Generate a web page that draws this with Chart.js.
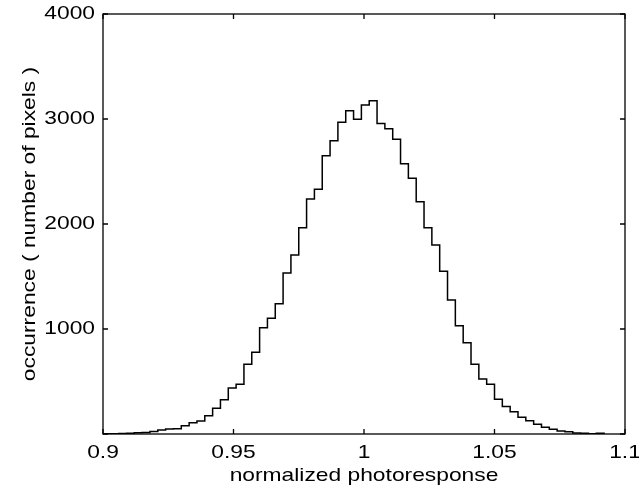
<!DOCTYPE html>
<html>
<head>
<meta charset="utf-8">
<script src="https://cdn.jsdelivr.net/npm/chart.js@4.4.0/dist/chart.umd.min.js"></script>
<style>
  html, body { margin: 0; padding: 0; background: #fff; }
  #wrap { width: 639px; height: 485px; position: relative; }
</style>
</head>
<body>
<div id="wrap"><canvas id="histChart"></canvas></div>
<script>
// left edges of the histogram bins (bin width 0.003)
const binEdges = [
  0.900, 0.903, 0.906, 0.909, 0.912, 0.915, 0.918, 0.921, 0.924, 0.927,
  0.930, 0.933, 0.936, 0.939, 0.942, 0.945, 0.948, 0.951, 0.954, 0.957,
  0.960, 0.963, 0.966, 0.969, 0.972, 0.975, 0.978, 0.981, 0.984, 0.987,
  0.990, 0.993, 0.996, 0.999, 1.002, 1.005, 1.008, 1.011, 1.014, 1.017,
  1.020, 1.023, 1.026, 1.029, 1.032, 1.035, 1.038, 1.041, 1.044, 1.047,
  1.050, 1.053, 1.056, 1.059, 1.062, 1.065, 1.068, 1.071, 1.074, 1.077,
  1.080, 1.083, 1.086, 1.089, 1.092
];

// pixel count per bin
const counts = [
  2, 3, 4, 6, 12, 15, 25, 38, 48, 50,
  79, 108, 124, 174, 245, 327, 438, 475, 664, 778,
  1013, 1102, 1241, 1533, 1705, 1965, 2238, 2330, 2651, 2794,
  2968, 3079, 2997, 3133, 3175, 2956, 2908, 2806, 2575, 2435,
  2213, 1965, 1800, 1550, 1276, 1032, 870, 664, 524, 473,
  332, 263, 212, 159, 127, 92, 64, 45, 29, 22,
  10, 8, 3, 6, 0
];

const xTicks = [0.9, 0.95, 1, 1.05, 1.1];
const yTicks = [0, 1000, 2000, 3000, 4000];

const FONT = '"Liberation Sans", Arial, Helvetica, sans-serif';
const SIZE = 19;
const TEXT_STRETCH = 1.2; // the reference lettering is drawn a bit wide

const canvas = document.getElementById('histChart');
const ctx2d = canvas.getContext('2d');

// stretch text horizontally round its anchor, and tell the layout about it
const rawFill = ctx2d.fillText.bind(ctx2d);
const rawMeasure = ctx2d.measureText.bind(ctx2d);
ctx2d.fillText = function (text, x, y, maxWidth) {
  this.save();
  this.translate(x, y);
  this.scale(TEXT_STRETCH, 1);
  if (maxWidth === undefined) rawFill(text, 0, 0);
  else rawFill(text, 0, 0, maxWidth / TEXT_STRETCH);
  this.restore();
};
ctx2d.measureText = function (text) {
  const m = rawMeasure(text);
  return {
    width: m.width * TEXT_STRETCH,
    actualBoundingBoxAscent: m.actualBoundingBoxAscent,
    actualBoundingBoxDescent: m.actualBoundingBoxDescent
  };
};

// box round the plot with short inward ticks on all four sides
const frameTicks = {
  id: 'frameTicks',
  afterDraw(chart) {
    const { ctx, chartArea: a, scales } = chart;
    const len = 5;
    ctx.save();
    ctx.strokeStyle = '#000';
    ctx.lineWidth = 1.3;
    ctx.beginPath();
    xTicks.forEach(v => {
      const px = scales.x.getPixelForValue(v);
      ctx.moveTo(px, a.bottom); ctx.lineTo(px, a.bottom - len);
      ctx.moveTo(px, a.top); ctx.lineTo(px, a.top + len);
    });
    yTicks.forEach(v => {
      const py = scales.y.getPixelForValue(v);
      ctx.moveTo(a.left, py); ctx.lineTo(a.left + len, py);
      ctx.moveTo(a.right, py); ctx.lineTo(a.right - len, py);
    });
    ctx.stroke();
    ctx.strokeRect(a.left, a.top, a.right - a.left, a.bottom - a.top);
    ctx.restore();
  }
};

const points = binEdges.map((x, i) => ({ x: x, y: counts[i] }));

new Chart(ctx2d, {
  type: 'line',
  data: {
    datasets: [{
      data: points,
      stepped: 'before',
      borderColor: '#000',
      borderWidth: 1.5,
      pointRadius: 0,
      fill: false
    }]
  },
  options: {
    responsive: true,
    maintainAspectRatio: false,
    animation: false,
    layout: { padding: 0 },
    plugins: {
      legend: { display: false },
      tooltip: { enabled: false }
    },
    scales: {
      x: {
        type: 'linear',
        min: 0.9,
        max: 1.1,
        grid: { display: false, drawTicks: false },
        border: { display: false },
        afterBuildTicks: s => { s.ticks = xTicks.map(v => ({ value: v })); },
        afterFit: s => {
          s.height = 51;
          s.paddingLeft = 0; s.paddingRight = 14;
          s.paddingTop = 0; s.paddingBottom = 0;
        },
        ticks: {
          color: '#000',
          padding: 7,
          maxRotation: 0,
          autoSkip: false,
          font: { family: FONT, size: SIZE },
          callback: v => String(Number(v.toFixed(2)))
        },
        title: {
          display: true,
          text: 'normalized photoresponse',
          color: '#000',
          padding: { top: 0, bottom: 0 },
          font: { family: FONT, size: SIZE, lineHeight: 1 }
        }
      },
      y: {
        min: 0,
        max: 4000,
        grid: { display: false, drawTicks: false },
        border: { display: false },
        afterBuildTicks: s => { s.ticks = yTicks.map(v => ({ value: v })); },
        afterFit: s => {
          s.width = 103;
          s.paddingTop = 14; s.paddingBottom = 0;
          s.paddingLeft = 0; s.paddingRight = 0;
        },
        ticks: {
          color: '#000',
          padding: 8,
          font: { family: FONT, size: SIZE },
          callback: v => (v === 0 ? '' : String(v))
        },
        title: {
          display: true,
          text: 'occurrence ( number of pixels )',
          color: '#000',
          padding: { top: 20, bottom: 0 },
          font: { family: FONT, size: SIZE, lineHeight: 1 }
        }
      }
    }
  },
  plugins: [frameTicks]
});
</script>
</body>
</html>
